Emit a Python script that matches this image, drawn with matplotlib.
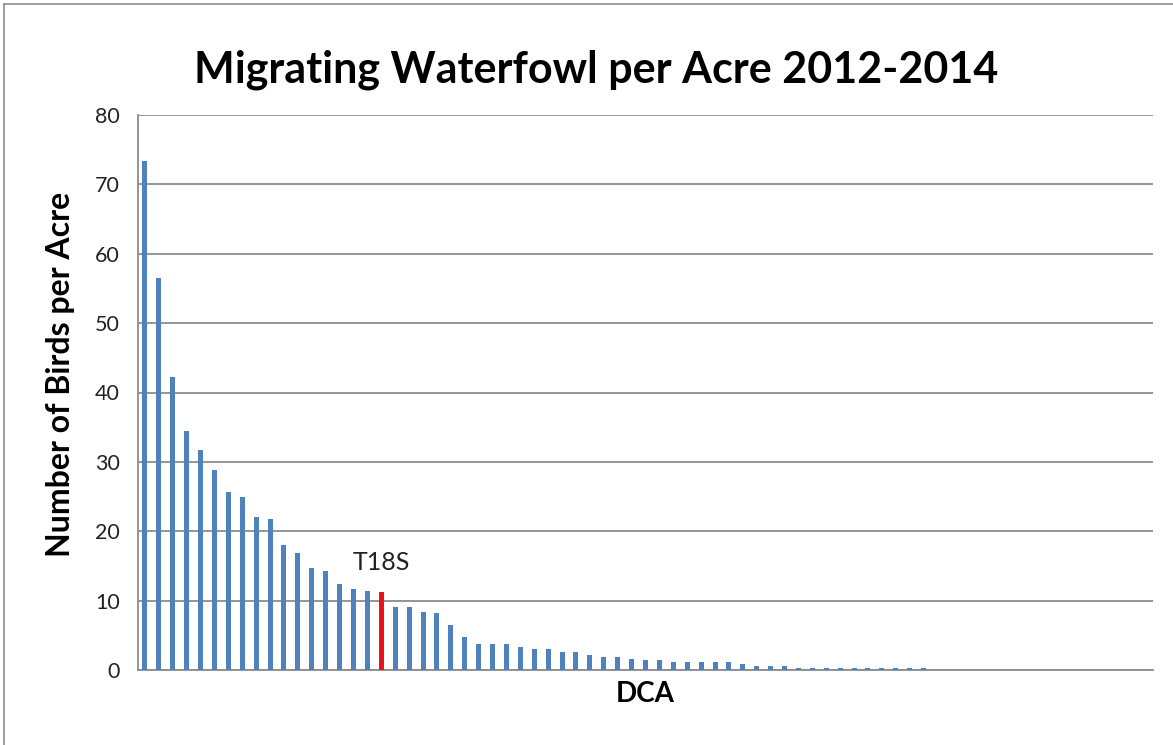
import matplotlib
matplotlib.use("Agg")
import matplotlib.pyplot as plt
from matplotlib.lines import Line2D

plt.rcParams['font.family'] = ['Lato', 'DejaVu Sans']

# Birds per acre for each DCA, sorted from highest to lowest
birds_per_acre = [
    73.3, 56.5, 42.3, 34.4, 31.7, 28.9, 25.6, 24.9, 22.1, 21.7,
    18.0, 16.8, 14.7, 14.3, 12.4, 11.7, 11.4, 11.2, 9.1, 9.1,
    8.4, 8.2, 6.5, 4.7, 3.8, 3.8, 3.8, 3.3, 3.0, 3.0,
    2.6, 2.6, 2.1, 1.9, 1.9, 1.6, 1.4, 1.4, 1.2, 1.1,
    1.1, 1.1, 1.1, 0.8, 0.6, 0.6, 0.6, 0.35, 0.3, 0.3,
    0.3, 0.3, 0.3, 0.3, 0.3, 0.3, 0.3,
]
n_categories = 73          # axis slots, the rest carry no data
highlight_index = 17       # DCA T18S
highlight_label = "T18S"
y_ticks = [0, 10, 20, 30, 40, 50, 60, 70, 80]

title = "Migrating Waterfowl per Acre 2012-2014"
x_title = "DCA"
y_title = "Number of Birds per Acre"

blue = "#4F81BD"
red = "#E8141B"
grid_grey = "#8C8C8C"

fig = plt.figure(figsize=(11.73, 7.45), dpi=100)
ax = fig.add_axes([138 / 1173, 1 - 670 / 745, (1153 - 138) / 1173, (670 - 115) / 745])

x = list(range(len(birds_per_acre)))
colors = [red if i == highlight_index else blue for i in x]
ax.bar(x, birds_per_acre, width=0.36, color=colors, zorder=3)

ax.set_xlim(-0.5, n_categories - 0.5)
ax.set_ylim(0, 80)
ax.set_yticks(y_ticks)
ax.set_xticks([])
ax.yaxis.grid(True, color=grid_grey, linewidth=1.3, zorder=0)
ax.tick_params(axis='y', length=0, pad=13, labelsize=15.5, labelcolor="#222222")

for side in ("top", "right"):
    ax.spines[side].set_visible(False)
for side in ("left", "bottom"):
    ax.spines[side].set_color(grid_grey)
    ax.spines[side].set_linewidth(1.3)

ax.annotate(highlight_label, xy=(highlight_index, birds_per_acre[highlight_index]),
            xytext=(0, 13), textcoords="offset points", ha="center", va="bottom",
            fontsize=18, color="#222222")

ax.set_xlabel(x_title, fontsize=20, fontweight="bold", labelpad=8)
ax.set_ylabel(y_title, fontsize=23, fontweight="bold")
ax.yaxis.set_label_coords(-0.062, 0.532)

fig.text(596 / 1173, 1 - 70 / 745, title, ha="center", va="center",
         fontsize=31, fontweight="bold")

# Chart area border
fig.add_artist(Line2D([4 / 1173, 4 / 1173], [0, 1 - 4 / 745], transform=fig.transFigure,
                      color="#8C8C8C", linewidth=1.2))
fig.add_artist(Line2D([4 / 1173, 1], [1 - 4 / 745, 1 - 4 / 745], transform=fig.transFigure,
                      color="#8C8C8C", linewidth=1.2))

fig.savefig("out.png", dpi=100)
